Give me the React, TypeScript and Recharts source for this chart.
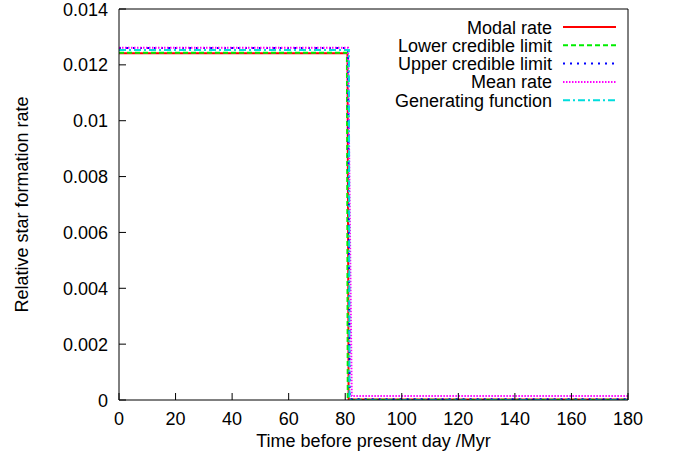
import React from "react";
import { LineChart, Line, XAxis, YAxis } from "recharts";

const xTicks = [0, 20, 40, 60, 80, 100, 120, 140, 160, 180];
const yTicks = [0, 0.002, 0.004, 0.006, 0.008, 0.01, 0.012, 0.014];
const yTickLabels = ["0", "0.002", "0.004", "0.006", "0.008", "0.01", "0.012", "0.014"];

const modalX = [0, 80.8, 81.2, 180];
const modalY = [0.01242, 0.01242, 0.00002, 0.00002];
const lowerX = [0, 80.6, 80.9, 180];
const lowerY = [0.01243, 0.01243, 0.00001, 0.00001];
const upperX = [0, 81.0, 81.6, 180];
const upperY = [0.0126, 0.0126, 0.00003, 0.00003];
const meanX = [0, 81.0, 82.3, 180];
const meanY = [0.01261, 0.01261, 0.00014, 0.00014];
const genX = [0, 81.3, 81.5, 180];
const genY = [0.01253, 0.01253, 0, 0];

const toData = (xs: number[], ys: number[]) => xs.map((x, i) => ({ x, y: ys[i] }));

const series = [
  { name: "Modal rate", data: toData(modalX, modalY), color: "#ff0000", dash: undefined as string | undefined },
  { name: "Lower credible limit", data: toData(lowerX, lowerY), color: "#00ee00", dash: "5 3" },
  { name: "Upper credible limit", data: toData(upperX, upperY), color: "#0000ff", dash: "2 5" },
  { name: "Mean rate", data: toData(meanX, meanY), color: "#ff00ff", dash: "1.5 1.5" },
  { name: "Generating function", data: toData(genX, genY), color: "#00dddd", dash: "7 3 2 3" },
];

const FONT = "'Liberation Sans', Arial, Helvetica, sans-serif";
const FS = 18;
const TL = 7;

const BottomTick = (props: any) => {
  const { x, y, payload } = props;
  return (
    <g>
      <line x1={x} y1={y} x2={x} y2={y - TL} stroke="#000" strokeWidth={1} />
      <text x={x} y={y + 25} textAnchor="middle" fontFamily={FONT} fontSize={FS} fill="#000">
        {payload.value}
      </text>
    </g>
  );
};

const TopTick = (props: any) => {
  const { x, y } = props;
  return <line x1={x} y1={y} x2={x} y2={y + TL} stroke="#000" strokeWidth={1} />;
};

const LeftTick = (props: any) => {
  const { x, y, payload } = props;
  const idx = yTicks.findIndex((t) => Math.abs(t - payload.value) < 1e-9);
  return (
    <g>
      <line x1={x} y1={y} x2={x + TL} y2={y} stroke="#000" strokeWidth={1} />
      <text x={x - 11} y={y + 6.5} textAnchor="end" fontFamily={FONT} fontSize={FS} fill="#000">
        {idx >= 0 ? yTickLabels[idx] : String(payload.value)}
      </text>
    </g>
  );
};

const RightTick = (props: any) => {
  const { x, y } = props;
  return <line x1={x} y1={y} x2={x - TL} y2={y} stroke="#000" strokeWidth={1} />;
};

export default function App() {
  return (
    <div style={{ position: "absolute", left: 0, top: 0, width: 676, height: 460, background: "#fff" }}>
      <LineChart width={676} height={460} margin={{ top: 8, right: 38, bottom: 20, left: 59 }}>
        <XAxis
          xAxisId="b"
          type="number"
          dataKey="x"
          domain={[0, 180]}
          ticks={xTicks}
          allowDataOverflow
          orientation="bottom"
          height={40}
          tickSize={0}
          tickMargin={0}
          tickLine={false}
          axisLine={{ stroke: "#000", strokeWidth: 1 }}
          tick={<BottomTick />}
          interval={0}
        />
        <XAxis
          xAxisId="t"
          type="number"
          dataKey="x"
          domain={[0, 180]}
          ticks={xTicks}
          orientation="top"
          height={1}
          tickSize={0}
          tickMargin={0}
          tickLine={false}
          axisLine={{ stroke: "#000", strokeWidth: 1 }}
          tick={<TopTick />}
          interval={0}
        />
        <YAxis
          yAxisId="l"
          type="number"
          domain={[0, 0.014]}
          ticks={yTicks}
          allowDataOverflow
          orientation="left"
          width={60}
          tickSize={0}
          tickMargin={0}
          tickLine={false}
          axisLine={{ stroke: "#000", strokeWidth: 1 }}
          tick={<LeftTick />}
          interval={0}
        />
        <YAxis
          yAxisId="r"
          type="number"
          domain={[0, 0.014]}
          ticks={yTicks}
          orientation="right"
          width={10}
          tickSize={0}
          tickMargin={0}
          tickLine={false}
          axisLine={{ stroke: "#000", strokeWidth: 1 }}
          tick={<RightTick />}
          interval={0}
        />
        {series.map((s) => (
          <Line
            key={s.name}
            xAxisId="b"
            yAxisId="l"
            data={s.data}
            dataKey="y"
            name={s.name}
            type="linear"
            stroke={s.color}
            strokeWidth={2}
            strokeDasharray={s.dash}
            dot={false}
            activeDot={false}
            isAnimationActive={false}
          />
        ))}
        <g>
          {series.map((s, i) => {
            const cy = 27 + i * 18.3;
            return (
              <g key={s.name}>
                <rect x={552 - (s.name.length * 8.5)} y={cy - 9} width={s.name.length * 8.5 + 66} height={18} fill="#fff" />
              </g>
            );
          })}
          {series.map((s, i) => {
            const cy = 27 + i * 18.3;
            return (
              <g key={s.name + "-l"}>
                <text x={552} y={cy + 6.5} textAnchor="end" fontFamily={FONT} fontSize={FS} fill="#000">
                  {s.name}
                </text>
                <line x1={563} y1={cy} x2={616} y2={cy} stroke={s.color} strokeWidth={2} strokeDasharray={s.dash} />
              </g>
            );
          })}
        </g>
        <text x={373.5} y={447} textAnchor="middle" fontFamily={FONT} fontSize={FS} fill="#000">
          Time before present day /Myr
        </text>
        <text
          x={28}
          y={204.5}
          textAnchor="middle"
          fontFamily={FONT}
          fontSize={FS}
          fill="#000"
          transform="rotate(-90 28 204.5)"
        >
          Relative star formation rate
        </text>
      </LineChart>
    </div>
  );
}
